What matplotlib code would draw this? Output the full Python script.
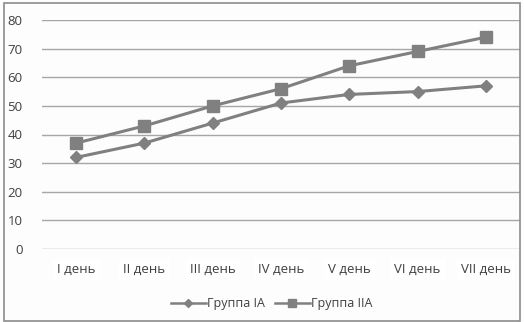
import numpy as np
import matplotlib.pyplot as plt
from matplotlib.patches import Rectangle

plt.rcParams['font.family'] = ['Open Sans', 'DejaVu Sans']

days = ['I день', 'II день', 'III день', 'IV день', 'V день', 'VI день', 'VII день']
group_ia = [32, 37, 44, 51, 54, 55, 57]
group_iia = [37, 43, 50, 56, 64, 69, 74]

fig = plt.figure(figsize=(5.24, 3.22), dpi=100, facecolor='#fdfdfd')
ax = fig.add_axes([42 / 524, 1 - 249 / 322, 478 / 524, 229 / 322])
ax.set_facecolor('#fdfdfd')

x = np.arange(len(days))
line_col = '#808080'
ax.plot(x, group_ia, color=line_col, lw=2.2, marker='D', ms=6.5, label='Группа IA')
ax.plot(x, group_iia, color=line_col, lw=2.2, marker='s', ms=8, label='Группа IIA')

ax.set_xlim(-0.5, 6.5)
ax.set_ylim(0, 80)
ax.set_yticks(range(0, 81, 10))
ax.set_xticks(x)
ax.set_xticklabels(days)
ax.grid(axis='y', color='#a6a6a6', lw=1)
ax.set_axisbelow(True)
for s in ax.spines.values():
    s.set_visible(False)
ax.tick_params(length=0, colors='#404040', labelsize=9.5)
ax.tick_params(axis='x', pad=10)
ax.tick_params(axis='y', pad=14)
for lbl in ax.get_xticklabels():
    lbl.set_bbox(dict(facecolor='white', edgecolor='none', pad=3))

leg = ax.legend(loc='upper center', bbox_to_anchor=(0.48, -0.16), ncol=2, frameon=False,
                fontsize=9, handlelength=2.8, columnspacing=0.8, handletextpad=0.1,
                labelcolor='#404040', markerscale=0.65)
for h in leg.get_lines():
    h.set_linewidth(1.8)

fig.patches.append(Rectangle((4 / 524, 1 / 322), 516 / 524, 318 / 322, transform=fig.transFigure,
                             fill=False, edgecolor='#8c8c8c', lw=1.2))

fig.savefig('out.png', dpi=100, facecolor=fig.get_facecolor())
